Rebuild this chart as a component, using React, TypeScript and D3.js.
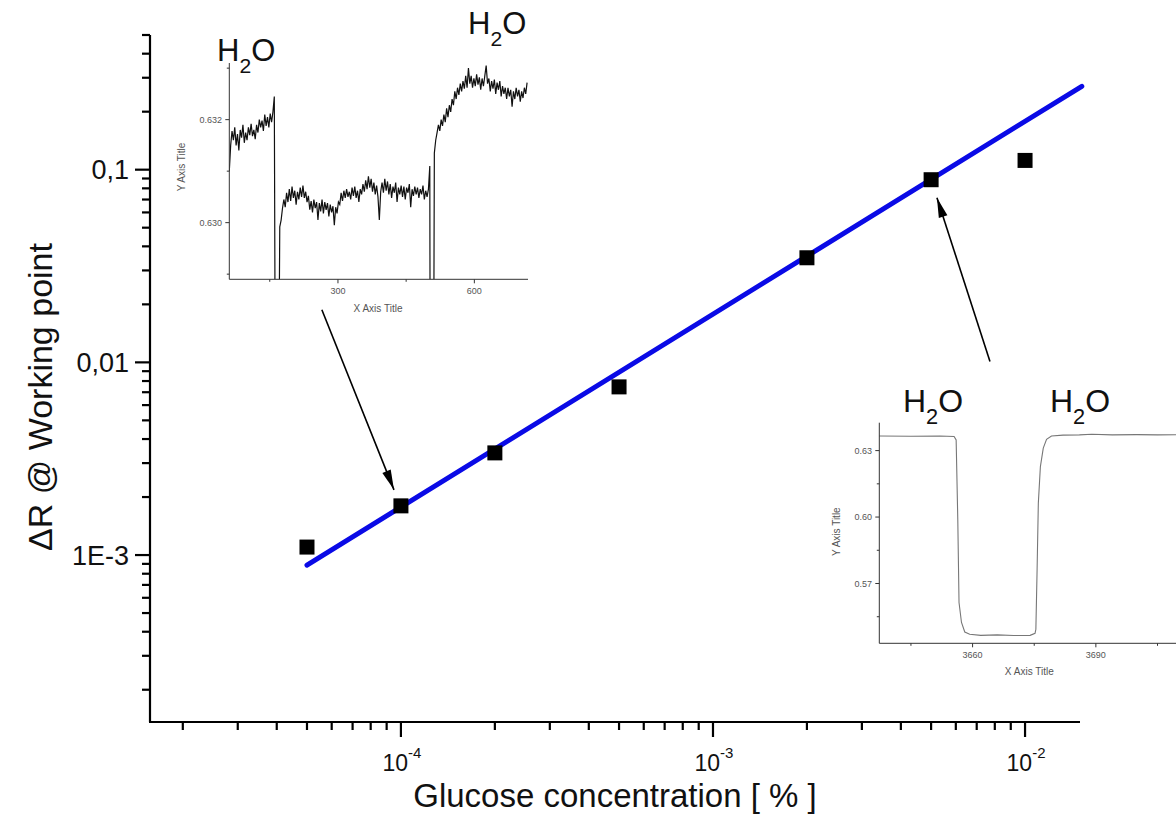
import React from "react";
import * as d3 from "d3";

// ---------- Main chart data ----------
const CONCENTRATION = [5e-5, 1e-4, 2e-4, 5e-4, 2e-3, 5e-3, 1e-2];
const DELTA_R = [1.1e-3, 1.8e-3, 3.39e-3, 7.46e-3, 0.0349, 0.0887, 0.1117];
const FIT_X = [5e-5, 0.0152];
const FIT_Y = [8.87e-4, 0.271];

const X_MAJOR = [1e-4, 1e-3, 1e-2];
const X_EXPONENTS = ["-4", "-3", "-2"];
const Y_MAJOR = [1e-3, 1e-2, 1e-1];
const Y_LABELS = ["1E-3", "0,01", "0,1"];

// arrows in main-data coordinates: [x0, y0, x1, y1]
const ARROWS = [
  [5.58e-5, 0.01874, 9.5e-5, 2.18e-3],
  [7.72e-3, 0.0101, 5.22e-3, 0.0716],
];

// ---------- Inset 1 (noisy trace) ----------
const INSET1_STEP = 3;
const INSET1_STARTS = [61, 172, 512];
const INSET1_A = [
  0.631, 0.6315, 0.63178, 0.6316, 0.63185, 0.6315, 0.63172, 0.6314, 0.6318, 0.63165,
  0.6319, 0.63155, 0.63175, 0.6316, 0.63185, 0.6317, 0.63192, 0.63168, 0.6318, 0.63162,
  0.6319, 0.63175, 0.632, 0.63185, 0.63198, 0.63178, 0.6321, 0.63188, 0.63205, 0.63185,
  0.63212, 0.63195, 0.63215, 0.63245,
];
const INSET1_B = [
  0.62992, 0.63005, 0.63028, 0.63045, 0.6303, 0.63058, 0.6304, 0.63065, 0.63042, 0.6307,
  0.63048, 0.63062, 0.63035, 0.6306, 0.63045, 0.63068, 0.6305, 0.63072, 0.63048, 0.6306,
  0.6304, 0.63052, 0.63025, 0.63042, 0.6302, 0.63045, 0.63028, 0.6304, 0.63005, 0.63038,
  0.63022, 0.63045, 0.63018, 0.6304, 0.63025, 0.63038, 0.63012, 0.63035, 0.6302, 0.63032,
  0.62995, 0.6303, 0.63018, 0.6304, 0.63035, 0.63058, 0.63042, 0.63062, 0.63048, 0.63065,
  0.6305, 0.6306, 0.63045, 0.63068, 0.63052, 0.6307, 0.63048, 0.63062, 0.6304, 0.63065,
  0.63055, 0.63075, 0.6306, 0.63082, 0.63065, 0.6309, 0.63068, 0.63085, 0.6306, 0.63078,
  0.63055, 0.63072, 0.6305, 0.63005, 0.6306, 0.63078, 0.63058, 0.63085, 0.63062, 0.6308,
  0.63055, 0.63075, 0.63048, 0.6307, 0.63058, 0.63078, 0.6304, 0.63068, 0.63055, 0.63072,
  0.6305, 0.6307, 0.63045, 0.63068, 0.63058, 0.63075, 0.6303, 0.63065, 0.63052, 0.6307,
  0.63055, 0.63068, 0.63048, 0.63065, 0.63055, 0.63072, 0.63045, 0.63062, 0.6305, 0.63065,
  0.6311,
];
const INSET1_C = [
  0.63135, 0.6316, 0.63175, 0.6319, 0.63178, 0.632, 0.63188, 0.6321, 0.63195, 0.63222,
  0.63205, 0.63228, 0.63215, 0.6324, 0.63228, 0.63255, 0.6324, 0.63262, 0.63248, 0.6327,
  0.63255, 0.63275, 0.6326, 0.63285, 0.63262, 0.633, 0.6327, 0.63285, 0.63262, 0.6328,
  0.63265, 0.63288, 0.63268, 0.63282, 0.63258, 0.6328, 0.63265, 0.63285, 0.63305, 0.6327,
  0.6328, 0.63255, 0.63275, 0.6326, 0.63278, 0.6325, 0.63272, 0.63258, 0.63275, 0.63245,
  0.63265, 0.6325, 0.63262, 0.6324, 0.63262, 0.63245, 0.63258, 0.63225, 0.63255, 0.6324,
  0.63262, 0.63245, 0.63258, 0.63235, 0.63255, 0.63242, 0.63262, 0.6325, 0.63272,
];
const INSET1_DROPOUTS = [
  [161.5, 171],
  [502.5, 511],
];
const INSET1_DROPOUT_VALUE = 0.6285;
const INSET1_Y_MAJOR = [0.63, 0.632];
const INSET1_Y_LABELS = ["0.630", "0.632"];
const INSET1_Y_MINOR = [0.629, 0.631, 0.633];
const INSET1_X_MAJOR = [300, 600];
const INSET1_X_MINOR = [150, 450];

// ---------- Inset 2 (step trace) ----------
const INSET2_X = [
  3637.3, 3645, 3652, 3655.5, 3656.0, 3656.4, 3656.7, 3657.3, 3658.1, 3659.3, 3662, 3666,
  3670, 3674, 3675.2, 3675.4, 3675.7, 3676.0, 3676.5, 3677.2, 3678.0, 3679.2, 3682, 3686,
  3689, 3694, 3700, 3705, 3710,
];
const INSET2_Y = [
  0.6366, 0.6365, 0.6366, 0.6364, 0.6348, 0.5988, 0.5614, 0.5524, 0.5481, 0.5471, 0.5466,
  0.5468, 0.5465, 0.5466, 0.5475, 0.5494, 0.5763, 0.6063, 0.6228, 0.6311, 0.6351, 0.6366,
  0.637, 0.6371, 0.6374, 0.6371, 0.6372, 0.6371, 0.6372,
];
const INSET2_Y_MAJOR = [0.57, 0.6, 0.63];
const INSET2_Y_LABELS = ["0.57", "0.60", "0.63"];
const INSET2_Y_MINOR = [0.555, 0.585, 0.615];
const INSET2_X_MAJOR = [3660, 3690];
const INSET2_X_MINOR = [3645, 3675, 3705];

const FONT = "Arial, 'Liberation Sans', Helvetica, sans-serif";

function H2O({ x, y, size = 31 }: { x: number; y: number; size?: number }) {
  return (
    <text x={x} y={y} fontFamily={FONT} fontSize={size} fill="#111">
      H
      <tspan fontSize={size * 0.68} dy={12}>
        2
      </tspan>
      <tspan dy={-12}>O</tspan>
    </text>
  );
}

export default function App() {
  const W = 1176;
  const H = 835;

  const x = d3.scaleLog().domain([1.57e-5, 0.015]).range([150, 1080]);
  const y = d3.scaleLog().domain([1.36e-4, 0.5]).range([722, 35]);

  const xMinor = x.ticks().filter((t) => !X_MAJOR.some((m) => Math.abs(m - t) / m < 1e-6));
  const yMinor = y.ticks().filter((t) => !Y_MAJOR.some((m) => Math.abs(m - t) / m < 1e-6));

  const fitLine = d3
    .line<number>()
    .x((_, i) => x(FIT_X[i]))
    .y((d) => y(d));

  // inset 1 scales
  const i1x = d3.scaleLinear().domain([61, 718]).range([229.3, 528]);
  const i1y = d3.scaleLinear().domain([0.6289, 0.6331]).range([279.3, 63]);
  const segs = [INSET1_A, INSET1_B, INSET1_C];
  const i1pts: [number, number][] = [];
  segs.forEach((seg, si) => {
    seg.forEach((v, k) => i1pts.push([INSET1_STARTS[si] + k * INSET1_STEP, v]));
    if (si < INSET1_DROPOUTS.length) {
      INSET1_DROPOUTS[si].forEach((dx) => i1pts.push([dx, INSET1_DROPOUT_VALUE]));
    }
  });
  const i1line = d3
    .line<[number, number]>()
    .x((d) => i1x(d[0]))
    .y((d) => i1y(d[1]));

  // inset 2 scales
  const i2x = d3.scaleLinear().domain([3637.3, 3709.5]).range([879.3, 1176]);
  const i2y = d3.scaleLinear().domain([0.543, 0.6426]).range([643.3, 422.7]);
  const i2line = d3
    .line<number>()
    .x((_, i) => i2x(INSET2_X[i]))
    .y((d) => i2y(d));

  const insetAxisColor = "#333";
  const insetTextColor = "#555";

  const arrowHead = (x0: number, y0: number, x1: number, y1: number) => {
    const ang = Math.atan2(y1 - y0, x1 - x0);
    const L = 20;
    const Wd = 4.5;
    const bx = x1 - L * Math.cos(ang);
    const by = y1 - L * Math.sin(ang);
    const px = -Math.sin(ang) * Wd;
    const py = Math.cos(ang) * Wd;
    return `M${x1},${y1}L${bx + px},${by + py}L${bx - px},${by - py}Z`;
  };

  return (
    <svg
      width={W}
      height={H}
      viewBox={`0 0 ${W} ${H}`}
      style={{ position: "absolute", left: 0, top: 0, background: "#fff" }}
    >
      <defs>
        <clipPath id="clip1">
          <rect x={229.3} y={63} width={528 - 229.3} height={279.3 - 63} />
        </clipPath>
      </defs>
      <rect x={0} y={0} width={W} height={H} fill="#fff" />

      {/* ---------- Main axes ---------- */}
      <g stroke="#000" strokeWidth={2.2} fill="none">
        <line x1={150} y1={35} x2={150} y2={722} />
        <line x1={149} y1={722} x2={1080} y2={722} />
        {Y_MAJOR.map((t) => (
          <line key={"ym" + t} x1={135} x2={150} y1={y(t)} y2={y(t)} />
        ))}
        {yMinor.map((t) => (
          <line key={"yn" + t} x1={142} x2={150} y1={y(t)} y2={y(t)} />
        ))}
        {X_MAJOR.map((t) => (
          <line key={"xm" + t} x1={x(t)} x2={x(t)} y1={722} y2={737} />
        ))}
        {xMinor.map((t) => (
          <line key={"xn" + t} x1={x(t)} x2={x(t)} y1={722} y2={730} />
        ))}
      </g>

      {/* y tick labels */}
      {Y_MAJOR.map((t, i) => (
        <text
          key={"yl" + t}
          x={129}
          y={y(t)}
          dy="0.36em"
          textAnchor="end"
          fontFamily={FONT}
          fontSize={27}
          fill="#111"
        >
          {Y_LABELS[i]}
        </text>
      ))}
      {/* x tick labels */}
      {X_MAJOR.map((t, i) => (
        <text
          key={"xl" + t}
          x={x(t) + 1}
          y={771}
          textAnchor="middle"
          fontFamily={FONT}
          fontSize={23}
          fill="#111"
        >
          10
          <tspan fontSize={15} dy={-13}>
            {X_EXPONENTS[i]}
          </tspan>
        </text>
      ))}

      {/* axis titles */}
      <text
        x={615}
        y={807}
        textAnchor="middle"
        fontFamily={FONT}
        fontSize={33}
        fill="#111"
      >
        Glucose concentration [ % ]
      </text>
      <text
        transform="translate(52,397) rotate(-90)"
        textAnchor="middle"
        fontFamily={FONT}
        fontSize={34}
        fill="#111"
      >
        ΔR @ Working point
      </text>

      {/* fit line */}
      <path
        d={fitLine(FIT_Y) || ""}
        stroke="#0a0ae6"
        strokeWidth={5}
        fill="none"
        strokeLinecap="round"
      />

      {/* data points */}
      {CONCENTRATION.map((c, i) => (
        <rect
          key={"p" + i}
          x={x(c) - 7.5}
          y={y(DELTA_R[i]) - 7.5}
          width={15}
          height={15}
          fill="#000"
        />
      ))}

      {/* arrows */}
      {ARROWS.map((a, i) => {
        const x0 = x(a[0]);
        const y0 = y(a[1]);
        const x1 = x(a[2]);
        const y1 = y(a[3]);
        return (
          <g key={"a" + i}>
            <line x1={x0} y1={y0} x2={x1} y2={y1} stroke="#000" strokeWidth={1.6} />
            <path d={arrowHead(x0, y0, x1, y1)} fill="#000" />
          </g>
        );
      })}

      {/* ---------- Inset 1 ---------- */}
      <g>
        <path
          d={i1line(i1pts) || ""}
          stroke="#111"
          strokeWidth={1.2}
          fill="none"
          clipPath="url(#clip1)"
        />
        <g stroke={insetAxisColor} strokeWidth={1} fill="none">
          <line x1={229.3} y1={63} x2={229.3} y2={279.3} />
          <line x1={229.3} y1={279.3} x2={528} y2={279.3} />
          {INSET1_Y_MAJOR.map((t) => (
            <line key={"i1ym" + t} x1={225.3} x2={229.3} y1={i1y(t)} y2={i1y(t)} />
          ))}
          {INSET1_Y_MINOR.map((t) => (
            <line key={"i1yn" + t} x1={226.8} x2={229.3} y1={i1y(t)} y2={i1y(t)} />
          ))}
          {INSET1_X_MAJOR.map((t) => (
            <line key={"i1xm" + t} x1={i1x(t)} x2={i1x(t)} y1={279.3} y2={283.3} />
          ))}
          {INSET1_X_MINOR.map((t) => (
            <line key={"i1xn" + t} x1={i1x(t)} x2={i1x(t)} y1={279.3} y2={281.8} />
          ))}
        </g>
        {INSET1_Y_MAJOR.map((t, i) => (
          <text
            key={"i1yl" + t}
            x={222}
            y={i1y(t)}
            dy="0.35em"
            textAnchor="end"
            fontFamily={FONT}
            fontSize={9}
            fill={insetTextColor}
          >
            {INSET1_Y_LABELS[i]}
          </text>
        ))}
        {INSET1_X_MAJOR.map((t) => (
          <text
            key={"i1xl" + t}
            x={i1x(t)}
            y={294}
            textAnchor="middle"
            fontFamily={FONT}
            fontSize={9}
            fill={insetTextColor}
          >
            {t}
          </text>
        ))}
        <text
          x={378}
          y={311.5}
          textAnchor="middle"
          fontFamily={FONT}
          fontSize={10}
          fill={insetTextColor}
        >
          X Axis Title
        </text>
        <text
          transform="translate(185,167) rotate(-90)"
          textAnchor="middle"
          fontFamily={FONT}
          fontSize={10}
          fill={insetTextColor}
        >
          Y Axis Title
        </text>
        <H2O x={217} y={61} />
        <H2O x={468} y={34} />
      </g>

      {/* ---------- Inset 2 ---------- */}
      <g>
        <path d={i2line(INSET2_Y) || ""} stroke="#777" strokeWidth={1.1} fill="none" />
        <g stroke={insetAxisColor} strokeWidth={1} fill="none">
          <line x1={879.3} y1={422.7} x2={879.3} y2={643.3} />
          <line x1={879.3} y1={643.3} x2={1176} y2={643.3} />
          {INSET2_Y_MAJOR.map((t) => (
            <line key={"i2ym" + t} x1={875.3} x2={879.3} y1={i2y(t)} y2={i2y(t)} />
          ))}
          {INSET2_Y_MINOR.map((t) => (
            <line key={"i2yn" + t} x1={876.8} x2={879.3} y1={i2y(t)} y2={i2y(t)} />
          ))}
          {INSET2_X_MAJOR.map((t) => (
            <line key={"i2xm" + t} x1={i2x(t)} x2={i2x(t)} y1={643.3} y2={647.3} />
          ))}
          {INSET2_X_MINOR.map((t) => (
            <line key={"i2xn" + t} x1={i2x(t)} x2={i2x(t)} y1={643.3} y2={645.8} />
          ))}
        </g>
        {INSET2_Y_MAJOR.map((t, i) => (
          <text
            key={"i2yl" + t}
            x={872}
            y={i2y(t)}
            dy="0.35em"
            textAnchor="end"
            fontFamily={FONT}
            fontSize={9}
            fill={insetTextColor}
          >
            {INSET2_Y_LABELS[i]}
          </text>
        ))}
        {INSET2_X_MAJOR.map((t) => (
          <text
            key={"i2xl" + t}
            x={i2x(t)}
            y={658}
            textAnchor="middle"
            fontFamily={FONT}
            fontSize={9}
            fill={insetTextColor}
          >
            {t}
          </text>
        ))}
        <text
          x={1029.3}
          y={675}
          textAnchor="middle"
          fontFamily={FONT}
          fontSize={10}
          fill={insetTextColor}
        >
          X Axis Title
        </text>
        <text
          transform="translate(840,531.7) rotate(-90)"
          textAnchor="middle"
          fontFamily={FONT}
          fontSize={10}
          fill={insetTextColor}
        >
          Y Axis Title
        </text>
        <H2O x={903} y={411.7} size={32} />
        <H2O x={1050} y={411.7} size={32} />
      </g>
    </svg>
  );
}
